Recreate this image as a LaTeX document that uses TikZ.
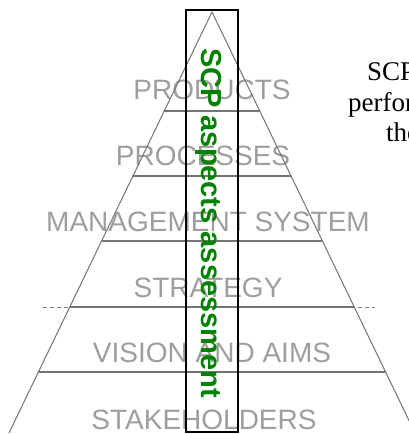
\documentclass[tikz,border=0pt]{standalone}
\usepackage{xcolor}
\usepackage{fontspec}
\setmainfont{Liberation Serif}
\setsansfont{Liberation Sans}
\usepackage{tikz}
\usetikzlibrary{positioning,calc}

\definecolor{scpgreen}{RGB}{0,130,0}

\begin{document}
\begin{tikzpicture}[x=1pt, y=-1pt,
      level/.style={font=\sffamily\fontsize{28}{30}\selectfont, text=black!38, inner sep=0pt, anchor=base},
      side/.style={draw=black!55, line width=1pt},
      bar/.style={draw=black!55, line width=2.6pt},
      split/.style={draw=black!50, line width=0.6pt, dash pattern=on 4pt off 3pt},
      frame/.style={draw=black, line width=2pt},
      note/.style={font=\fontsize{27}{30}\selectfont, inner sep=0pt, anchor=base west}
    ]
    \useasboundingbox (0,0) rectangle (409,434);

    \node[level] (stake) at (204,429) {STAKEHOLDERS};
    \node[level] (vision) at (212,362) {VISION AND AIMS};
    \node[level] (strat) at (208,297) {STRATEGY};
    \node[level] (mgmt) at (208,231) {MANAGEMENT SYSTEM};
    \node[level] (proc) at (203,165) {PROCESSES};
    \node[level] (prod) at (212,99) {PRODUCTS};

    \coordinate (apex) at (212,12);
    \coordinate (baseL) at (9,433);
    \coordinate (baseR) at (415,433);
    \coordinate (dashL) at (43,307);
    \coordinate (dashR) at (375,307);

    \draw[split] (dashL) -- (dashR);
    \draw[side] (apex) -- (baseL);
    \draw[side] (apex) -- (baseR);
    \foreach \y in {111,176,241,307,372}
      \draw[bar] ($(apex)!{(\y-12)/421}!(baseL)$) -- ($(apex)!{(\y-12)/421}!(baseR)$);

    \node[frame, minimum width=52pt, minimum height=422pt, inner sep=0pt] (box) at (211.5,221) {};
    \node[font=\sffamily\bfseries\fontsize{29}{31}\selectfont, text=scpgreen, rotate=-90, anchor=base, inner sep=0pt] (scp) at (201.5,223) {SCP aspects assessment};

    \node[note] (n1) at (367,80) {SCP};
    \node[note] (n2) at (348,111) {perfor};
    \node[note] (n3) at (386,141) {the};
  \end{tikzpicture}
\end{document}
